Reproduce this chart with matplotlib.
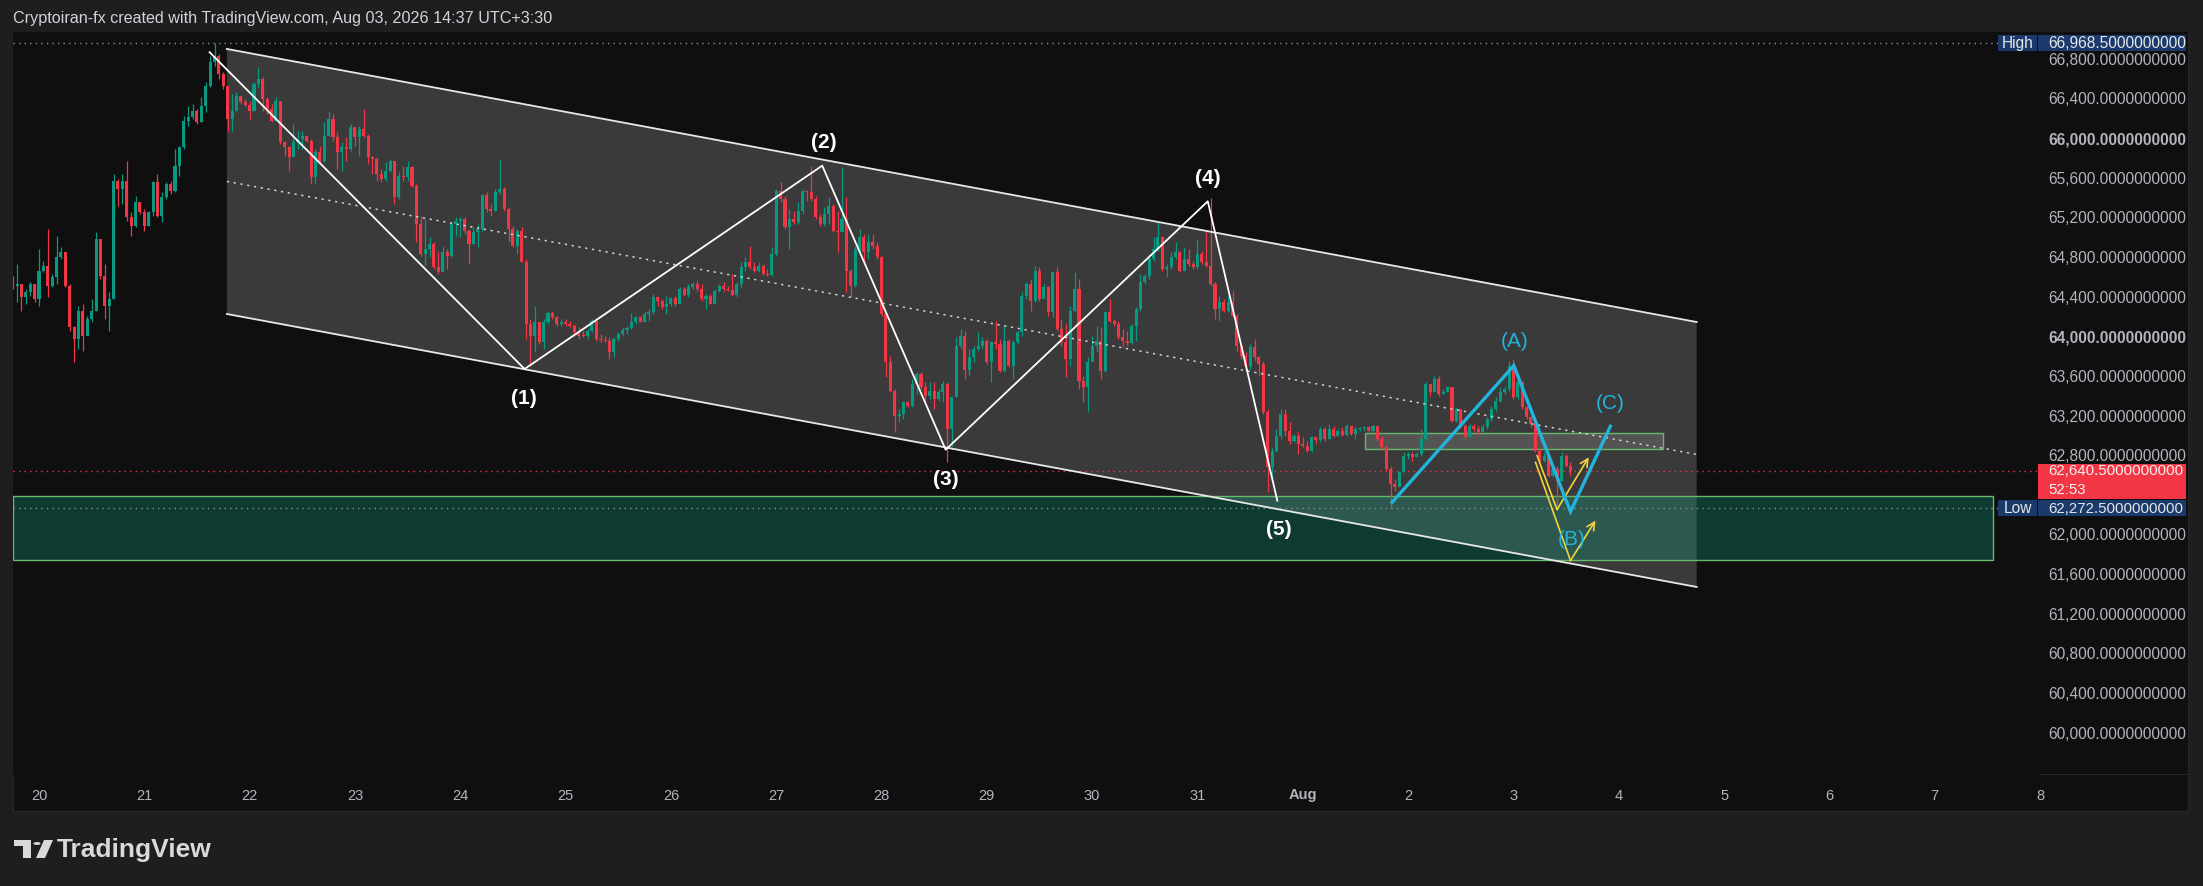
import numpy as np
import matplotlib
matplotlib.use("Agg")
import matplotlib.pyplot as plt
from matplotlib.patches import Rectangle, Polygon, Circle
from matplotlib import transforms

W, H = 2203, 887

# --- hourly candles, first candle Jul 19 18:00 (x in days from Jul 20 00:00) ---
first_hour = -6
first_open = 64557
closes = [
    64510, 64533, 64399, 64449, 64533, 64382, 64668, 64718, 64517, 64601,
    64803, 64853, 64517, 64096, 63978, 64264, 64012, 64180, 64264, 64988,
    64618, 64315, 64382, 65576, 65492, 65576, 65206, 65122, 65358, 65257,
    65122, 65257, 65560, 65223, 65408, 65540, 65470, 65728, 65913, 66182,
    66216, 66283, 66165, 66333, 66535, 66771, 66838, 66653, 66535, 66199,
    66283, 66434, 66367, 66340, 66283, 66552, 66602, 66400, 66300, 66182,
    66384, 65963, 65913, 65812, 65963, 65997, 66030, 65980, 65610, 65862,
    65778, 66030, 66199, 66013, 65862, 65912, 65895, 66114, 66013, 66097,
    66030, 65811, 65794, 65643, 65593, 65677, 65778, 65408, 65626, 65609,
    65710, 65525, 65138, 64836, 64886, 64937, 64701, 64651, 64852, 64819,
    65138, 65172, 65189, 65071, 64937, 65054, 65088, 65431, 65290, 65270,
    65458, 65492, 65290, 65088, 64920, 65071, 64752, 64129, 64012, 64146,
    63944, 64146, 64240, 64197, 64129, 64146, 64129, 64113, 64045, 64012,
    64005, 64062, 64163, 63978, 63970, 63960, 63843, 63978, 64028, 64072,
    64085, 64146, 64197, 64153, 64230, 64247, 64398, 64364, 64297, 64331,
    64388, 64331, 64482, 64422, 64499, 64533, 64482, 64381, 64415, 64331,
    64465, 64516, 64482, 64470, 64422, 64533, 64701, 64751, 64701, 64667,
    64718, 64634, 64624, 64835, 65474, 65391, 65105, 65189, 65155, 65273,
    65474, 65458, 65391, 65205, 65138, 65239, 65323, 65071, 65054, 65189,
    64667, 64516, 64886, 65004, 64852, 64953, 64920, 64802, 64230, 63742,
    63456, 63204, 63220, 63338, 63305, 63523, 63624, 63490, 63406, 63456,
    63372, 63446, 63523, 63069, 63389, 63910, 64011, 63660, 63793, 63877,
    63911, 63961, 63743, 63945, 63930, 63659, 63961, 63709, 63945, 64045,
    64416, 64533, 64365, 64668, 64382, 64500, 64247, 64651, 64079, 63945,
    63776, 64264, 64483, 63558, 63491, 63743, 63911, 63961, 63659, 64247,
    64163, 64130, 63995, 63960, 63940, 64113, 64281, 64550, 64617, 64786,
    64887, 65004, 64685, 64701, 64802, 64853, 64668, 64786, 64735, 64701,
    64836, 64752, 64718, 64533, 64281, 64348, 64264, 64348, 64214, 63911,
    63810, 63709, 63894, 63793, 63726, 63238, 62683, 62851, 63003, 63221,
    63053, 62952, 63002, 62918, 62901, 62851, 62985, 62960, 63070, 62969,
    63070, 63002, 63053, 63009, 63103, 63019, 63070, 63076, 63086, 63053,
    63103, 62969, 62885, 62666, 62515, 62481, 62632, 62800, 62817, 62784,
    62817, 62969, 63524, 63440, 63574, 63423, 63440, 63490, 63154, 63271,
    63103, 62985, 63103, 63070, 63036, 63086, 63170, 63271, 63355, 63440,
    63473, 63709, 63389, 63541, 63288, 63187, 63120, 62851, 62750, 62800,
    62599, 62666, 62548, 62800, 62700, 62640.5,
]
highs = [
    64618, 64735, 64533, 64483, 64550, 64533, 64887, 64769, 65089, 64634,
    65021, 64904, 64853, 64533, 64113, 64315, 64332, 64214, 64382, 65055,
    64988, 64735, 64449, 65644, 65593, 65644, 65778, 65257, 65425, 65358,
    65291, 65274, 65576, 65644, 65459, 65560, 65576, 65896, 65930, 66232,
    66333, 66350, 66300, 66417, 66569, 66838, 66968.5, 66855, 66670, 66535,
    66451, 66468, 66434, 66400, 66384, 66569, 66720, 66619, 66417, 66350,
    66417, 66384, 65980, 65930, 66148, 66081, 66081, 66030, 65997, 65896,
    65930, 66165, 66283, 66249, 66064, 65963, 66013, 66148, 66114, 66131,
    66299, 66047, 65828, 65811, 65694, 65761, 65794, 65778, 65660, 65727,
    65778, 65727, 65542, 65223, 65189, 65004, 64953, 64852, 64920, 64886,
    65155, 65206, 65206, 65206, 65088, 65105, 65138, 65441, 65458, 65340,
    65492, 65794, 65509, 65307, 65122, 65088, 65105, 64785, 64180, 64314,
    64146, 64180, 64264, 64264, 64213, 64180, 64180, 64163, 64129, 64096,
    64062, 64079, 64180, 64163, 64028, 64012, 63995, 63995, 64045, 64096,
    64113, 64240, 64213, 64213, 64264, 64280, 64432, 64415, 64381, 64415,
    64398, 64415, 64499, 64499, 64533, 64550, 64566, 64533, 64432, 64432,
    64482, 64533, 64550, 64516, 64634, 64550, 64751, 64802, 64920, 64751,
    64751, 64735, 64684, 64903, 65491, 65559, 65424, 65290, 65273, 65357,
    65491, 65474, 65727, 65424, 65239, 65306, 65407, 65340, 65273, 65710,
    65407, 64684, 64920, 65088, 65037, 65037, 65037, 64953, 64819, 64247,
    63809, 63473, 63271, 63355, 63355, 63574, 63641, 63641, 63540, 63540,
    63540, 63473, 63557, 63540, 63406, 63995, 64078, 64062, 63877, 63911,
    64045, 63995, 63978, 63961, 64163, 63978, 64113, 63978, 63961, 64062,
    64449, 64550, 64584, 64718, 64701, 64533, 64517, 64668, 64701, 64180,
    64130, 64314, 64651, 64584, 63608, 63793, 64012, 64113, 64096, 64264,
    64382, 64180, 64163, 64079, 64062, 64130, 64298, 64634, 64634, 64836,
    65004, 65155, 65021, 64735, 64853, 64954, 64870, 64903, 64887, 64769,
    64987, 64870, 65055, 65398, 64550, 64416, 64382, 64416, 64466, 64230,
    63928, 63844, 63928, 63978, 63810, 63760, 63272, 62885, 63070, 63272,
    63271, 63137, 63019, 63036, 62985, 62952, 63002, 62985, 63086, 63086,
    63120, 63103, 63070, 63086, 63120, 63103, 63086, 63086, 63103, 63103,
    63110, 63103, 63002, 62901, 62699, 62565, 62649, 62834, 62834, 62834,
    62834, 63070, 63541, 63507, 63608, 63608, 63473, 63507, 63490, 63288,
    63254, 63120, 63120, 63120, 63103, 63120, 63187, 63305, 63389, 63490,
    63507, 63759, 63776, 63574, 63557, 63305, 63204, 63137, 62868, 62834,
    62817, 62700, 62700, 62834, 62817, 62733,
]
lows = [
    64483, 64348, 64264, 64332, 64416, 64348, 64315, 64651, 64399, 64500,
    64533, 64786, 64500, 64063, 63743, 63878, 63861, 64029, 64147, 64264,
    64584, 64180, 64063, 64382, 65324, 65341, 65173, 65021, 65106, 65240,
    65072, 65122, 65223, 65206, 65156, 65391, 65440, 65460, 65627, 65896,
    66131, 66199, 66148, 66165, 66266, 66518, 66737, 66602, 66501, 66081,
    66081, 66283, 66350, 66333, 66199, 66283, 66518, 66283, 66249, 66165,
    66182, 65946, 65829, 65677, 65812, 65896, 65896, 65963, 65543, 65543,
    65745, 65761, 66030, 65980, 65694, 65677, 65778, 65879, 65929, 65828,
    66013, 65744, 65643, 65576, 65559, 65576, 65660, 65340, 65391, 65576,
    65576, 65508, 64953, 64819, 64718, 64802, 64684, 64634, 64651, 64684,
    64802, 65021, 65004, 65038, 64735, 64937, 64903, 65071, 65256, 65223,
    65273, 65441, 65273, 64953, 64910, 64836, 64752, 63978, 63709, 63843,
    63927, 63877, 64129, 64180, 64113, 64113, 64113, 64096, 64012, 63978,
    63995, 63978, 64045, 63961, 63944, 63944, 63776, 63793, 63961, 64012,
    64028, 64079, 64129, 64146, 64146, 64163, 64230, 64314, 64280, 64230,
    64314, 64314, 64331, 64415, 64398, 64482, 64465, 64364, 64280, 64331,
    64331, 64449, 64465, 64465, 64415, 64398, 64499, 64667, 64684, 64650,
    64650, 64624, 64617, 64617, 64819, 65357, 65088, 64886, 65138, 65138,
    65239, 65374, 65374, 65189, 65121, 65121, 65138, 65054, 64852, 65054,
    64449, 64398, 64499, 64852, 64751, 64785, 64886, 64785, 64213, 63591,
    63439, 63036, 63137, 63170, 63288, 63288, 63423, 63473, 63338, 63372,
    63271, 63355, 63338, 62733, 62901, 63389, 63877, 63574, 63608, 63743,
    63860, 63877, 63726, 63541, 63877, 63642, 63642, 63692, 63575, 63928,
    64012, 64382, 64264, 64348, 64365, 64399, 64214, 64197, 64062, 63911,
    63592, 63709, 64247, 63474, 63339, 63238, 63810, 63844, 63575, 63642,
    64146, 64113, 63978, 63894, 63920, 63928, 63961, 64264, 64533, 64584,
    64769, 64870, 64668, 64601, 64685, 64786, 64651, 64668, 64718, 64685,
    64685, 64735, 64701, 64517, 64180, 64163, 64247, 64247, 64197, 63844,
    63776, 63659, 63675, 63760, 63608, 63221, 62431, 62532, 62835, 62969,
    63002, 62918, 62935, 62817, 62885, 62834, 62834, 62918, 62935, 62952,
    62969, 62985, 63002, 62996, 63002, 63009, 62969, 63053, 63053, 63043,
    63036, 62952, 62868, 62649, 62272.5, 62447, 62481, 62632, 62767, 62750,
    62784, 62794, 62952, 63406, 63440, 63406, 63423, 63440, 63137, 63137,
    63086, 62969, 63002, 63053, 63019, 63036, 63070, 63154, 63254, 63339,
    63423, 63456, 63372, 63372, 63271, 63170, 63086, 62834, 62733, 62733,
    62582, 62582, 62290, 62548, 62683, 62599,
]

# --- drawings (days, price) ---
channel_x = [1.784, 15.740]
channel_top = [66905, 64149]
channel_mid = [65568, 62812]
channel_bot = [64230, 61475]

wave_x = [1.620, 4.611, 7.437, 8.609, 11.098, 11.758]
wave_y = [66872, 63675, 65727, 62860, 65367, 62346]
wave_labels = ["(1)", "(2)", "(3)", "(4)", "(5)"]
wave_label_x = [4.602, 7.448, 8.615, 11.101, 11.774]
wave_label_y = [63392, 65966, 62565, 65603, 62060]

abc_x = [12.849, 14.004, 14.542, 14.921]
abc_y = [62330, 63709, 62235, 63097]
abc_labels = ["(A)", "(B)", "(C)"]
abc_label_x = [14.013, 14.551, 14.921]
abc_label_y = [63961, 61959, 63339]

yellow1_x = [14.225, 14.414, 14.715]
yellow1_y = [62800, 62256, 62784]
yellow2_x = [14.210, 14.542, 14.779]
yellow2_y = [62733, 61741, 62145]

demand_x = [-0.247, 18.558]
demand_y = [61744, 62390]
supply_x = [12.590, 15.420]
supply_y = [62867, 63026]

high_price = 66968.5
low_price = 62272.5
last_price = 62640.5
countdown = "52:53"

price_ticks = list(range(60000, 67000, 400))
bold_ticks = [64000, 66000]
day_ticks = list(range(20))
day_labels = ["20", "21", "22", "23", "24", "25", "26", "27", "28", "29",
              "30", "31", "Aug", "2", "3", "4", "5", "6", "7", "8"]

# --- colours ---
BG_OUT = "#1e1e1e"
BG = "#0f0f0f"
UP = "#089981"
DOWN = "#f23645"
TXT = "#b2b5be"
CYAN = "#22b4dc"
YELLOW = "#f2d43a"
NAVY = "#1a3a6c"

plt.rcParams["font.family"] = ["Liberation Sans", "DejaVu Sans"]

fig = plt.figure(figsize=(W / 100, H / 100), dpi=100, facecolor=BG_OUT)

# panel behind the chart
fig.patches.append(Rectangle((13 / W, 1 - 812 / H), (2188 - 13) / W, (812 - 33) / H,
                             transform=fig.transFigure, facecolor=BG,
                             edgecolor="#262626", linewidth=1, zorder=-10))

ax = fig.add_axes([13 / W, 1 - 776 / H, (2040 - 13) / W, (776 - 33) / H])
ax.set_facecolor(BG)
ax.set_xlim(-0.2467, 18.985)
ax.set_ylim(59577, 67076)
for s in ax.spines.values():
    s.set_visible(False)
ax.set_yticks([])
ax.set_xticks(day_ticks)
ax.set_xticklabels(day_labels)
ax.tick_params(axis="x", length=0, pad=9, labelsize=10.5, colors=TXT)
for lbl in ax.get_xticklabels():
    if lbl.get_text() == "Aug":
        lbl.set_fontweight("bold")

# channel
ax.add_patch(Polygon([(channel_x[0], channel_top[0]), (channel_x[1], channel_top[1]),
                      (channel_x[1], channel_bot[1]), (channel_x[0], channel_bot[0])],
                     closed=True, facecolor="white", alpha=0.18, linewidth=0, zorder=1))
ax.plot(channel_x, channel_top, color="#e8e8e8", lw=1.3, zorder=4)
ax.plot(channel_x, channel_bot, color="#e8e8e8", lw=1.3, zorder=4)
ax.plot(channel_x, channel_mid, color="#d0d0d0", lw=1.1, ls=(0, (1.5, 3)), zorder=4)

# zones
ax.add_patch(Rectangle((demand_x[0], demand_y[0]), demand_x[1] - demand_x[0],
                       demand_y[1] - demand_y[0], facecolor="#0f9e84", alpha=0.3,
                       linewidth=0, zorder=1.5))
ax.add_patch(Rectangle((demand_x[0], demand_y[0]), demand_x[1] - demand_x[0],
                       demand_y[1] - demand_y[0], facecolor="none",
                       edgecolor="#66bb6a", linewidth=1, zorder=1.6))
ax.add_patch(Rectangle((supply_x[0], supply_y[0]), supply_x[1] - supply_x[0],
                       supply_y[1] - supply_y[0], facecolor="#9a9a9a", alpha=0.28,
                       linewidth=0, zorder=1.5))
ax.add_patch(Rectangle((supply_x[0], supply_y[0]), supply_x[1] - supply_x[0],
                       supply_y[1] - supply_y[0], facecolor="none",
                       edgecolor="#66bb6a", linewidth=1, zorder=1.6))

# horizontal price lines
ax.axhline(high_price, color="#8a8d96", lw=1, ls=(0, (1, 3)), zorder=2)
ax.axhline(low_price, color="#8a8d96", lw=1, ls=(0, (1, 3)), zorder=2)
ax.axhline(last_price, color=DOWN, lw=1, ls=(0, (1, 3)), zorder=2)

# candles
c = np.array(closes, dtype=float)
o = np.concatenate([[first_open], c[:-1]])
x = (np.arange(len(c)) + first_hour) / 24
cols = np.where(c >= o, UP, DOWN)
ax.vlines(x, lows, highs, colors=cols, lw=0.9, zorder=3)
body_low = np.minimum(o, c)
body_h = np.maximum(np.abs(c - o), 12)
ax.bar(x, body_h, bottom=body_low, width=0.029, color=cols, linewidth=0, zorder=3.1)

# elliott wave
ax.plot(wave_x, wave_y, color="white", lw=1.3, zorder=4)
for t, lx, ly in zip(wave_labels, wave_label_x, wave_label_y):
    ax.text(lx, ly, t, color="white", fontsize=15, fontweight="bold",
            ha="center", va="center", zorder=5)

ax.plot(abc_x, abc_y, color=CYAN, lw=2.4, zorder=4.5, solid_joinstyle="miter")
for t, lx, ly in zip(abc_labels, abc_label_x, abc_label_y):
    ax.text(lx, ly, t, color=CYAN, fontsize=15, ha="center", va="center", zorder=5)

for yx, yy in ((yellow1_x, yellow1_y), (yellow2_x, yellow2_y)):
    ax.plot(yx[:2], yy[:2], color=YELLOW, lw=1.2, zorder=4.2)
    ax.annotate("", xy=(yx[2], yy[2]), xytext=(yx[1], yy[1]),
                arrowprops=dict(arrowstyle="->", color=YELLOW, lw=1.2,
                                mutation_scale=14, shrinkA=0, shrinkB=0),
                zorder=4.2)

# price scale
axp = fig.add_axes([2040 / W, 1 - 776 / H, (2188 - 2040) / W, (776 - 33) / H])
axp.set_facecolor(BG)
axp.set_ylim(ax.get_ylim())
axp.set_xlim(0, 1)
axp.set_xticks([])
axp.set_yticks([])
for s in axp.spines.values():
    s.set_visible(False)
axp.axhline(59577, color="#2a2a2a", lw=2)

PFS = 11.2
ppx = (67076 - 59577) / 743  # price per pixel
tr = transforms.blended_transform_factory(axp.transAxes, axp.transData)

# tick labels hidden behind the last-price / low boxes are not drawn
hidden_lo = low_price - 10 * ppx
hidden_hi = last_price + 8 * ppx
for v in price_ticks:
    if hidden_lo < v < hidden_hi:
        continue
    axp.text(0.054, v, f"{v:,.10f}", transform=tr, color=TXT, fontsize=PFS,
             fontweight="bold" if v in bold_ticks else "normal",
             ha="left", va="center", zorder=2)


def price_box(value, x0, x1, h_up, h_dn, color):
    axp.add_patch(Rectangle((x0, value - h_dn * ppx), x1 - x0, (h_up + h_dn) * ppx,
                            transform=tr, facecolor=color, linewidth=0,
                            clip_on=False, zorder=5))


# High / Low / last price labels
price_box(high_price, -0.014, 0.986, 7.5, 8.5, NAVY)
price_box(high_price, -0.284, -0.02, 7.5, 8.5, NAVY)
axp.text(0.054, high_price, f"{high_price:,.10f}", transform=tr, color="#e6e6e6",
         fontsize=PFS, ha="left", va="center", zorder=6, clip_on=False)
axp.text(-0.152, high_price, "High", transform=tr, color="#e6e6e6",
         fontsize=PFS, ha="center", va="center", zorder=6, clip_on=False)

price_box(last_price, -0.014, 0.986, 7.5, 28, DOWN)
axp.text(0.054, last_price + 1 * ppx, f"{last_price:,.10f}", transform=tr,
         color="#f2f2f2", fontsize=10.8, ha="left", va="center", zorder=6)
axp.text(0.054, last_price - 17.5 * ppx, countdown, transform=tr, color="#f2f2f2",
         fontsize=10.8, ha="left", va="center", zorder=6)

price_box(low_price, -0.014, 0.986, 7.5, 8.5, NAVY)
price_box(low_price, -0.284, -0.02, 7.5, 8.5, NAVY)
axp.text(0.054, low_price - 0.5 * ppx, f"{low_price:,.10f}", transform=tr,
         color="#e6e6e6", fontsize=10.8, ha="left", va="center", zorder=6)
axp.text(-0.152, low_price, "Low", transform=tr, color="#e6e6e6",
         fontsize=PFS, ha="center", va="center", zorder=6, clip_on=False)

# header and footer
fig.text(13 / W, 1 - 19 / H,
         "Cryptoiran-fx created with TradingView.com, Aug 03, 2026 14:37 UTC+3:30",
         color="#d1d4dc", fontsize=11.6, ha="left", va="center")

logo = "#d9d9d9"
fig.patches.append(Rectangle((14 / W, 1 - 847 / H), 17 / W, 6 / H,
                             transform=fig.transFigure, facecolor=logo, lw=0))
fig.patches.append(Rectangle((23 / W, 1 - 859 / H), 8 / W, 18 / H,
                             transform=fig.transFigure, facecolor=logo, lw=0))
fig.patches.append(Circle((37 / W, 1 - 844.5 / H), 3.6 / W,
                          transform=fig.transFigure, facecolor=logo, lw=0))
fig.patches.append(Polygon([(44 / W, 1 - 841 / H), (53 / W, 1 - 841 / H),
                            (45 / W, 1 - 859 / H), (36 / W, 1 - 859 / H)],
                           closed=True, transform=fig.transFigure, facecolor=logo, lw=0))
fig.text(57 / W, 1 - 850 / H, "TradingView", color=logo, fontsize=19,
         fontweight="bold", ha="left", va="center")

fig.savefig("out.png", dpi=100, facecolor=BG_OUT)
